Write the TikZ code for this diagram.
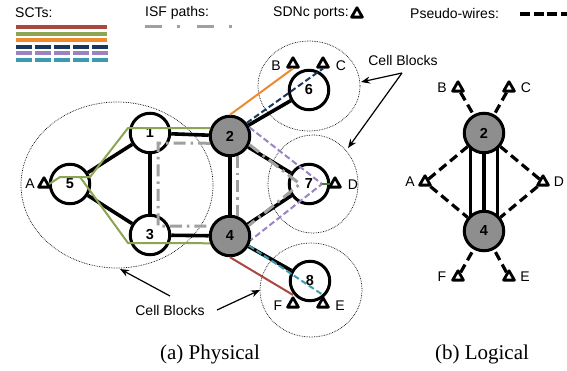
\documentclass[tikz,border=0pt]{standalone}
\usepackage{fontspec}
\setmainfont{Liberation Serif}
\setsansfont{Liberation Sans}
\usetikzlibrary{shapes.geometric,arrows.meta}
\definecolor{sctred}{HTML}{A9483F}
\definecolor{sctgreen}{HTML}{8BA552}
\definecolor{sctorange}{HTML}{EE8A2E}
\definecolor{sctnavy}{HTML}{17375E}
\definecolor{sctpurple}{HTML}{9A83C0}
\definecolor{sctteal}{HTML}{3B9BAE}
\definecolor{sctdkgreen}{HTML}{3C7A3C}
\definecolor{isfgray}{HTML}{A0A0A0}
\definecolor{nodegray}{HTML}{8E8E8E}
\pgfdeclarelayer{bg}
\pgfsetlayers{bg,main}
\begin{document}
\begin{tikzpicture}[x=1pt,y=-1pt,
  lbl/.style={font=\sffamily\fontsize{14}{16}\selectfont,inner sep=0pt},
  sw/.style={circle,draw=black,line width=3pt,fill=white,minimum size=39.5pt,inner sep=0pt,font=\sffamily\bfseries\fontsize{14.5}{16}\selectfont},
  swg/.style={sw,fill=nodegray},
  port/.style={regular polygon,regular polygon sides=3,draw=black,line width=2.8pt,line join=round,fill=white,minimum size=12.5pt,inner sep=0pt},
  link/.style={line width=3.6pt},
  cellblock/.style={draw=black,line width=0.7pt,densely dotted},
  sct/.style={line width=2pt},
  sctdash/.style={line width=2pt,dash pattern=on 6pt off 3pt},
  legsct/.style={line width=4pt},
  legdash/.style={line width=4pt,dash pattern=on 16pt off 3pt},
  isf/.style={isfgray,line width=3pt,dash pattern=on 12pt off 5pt on 2.5pt off 5pt},
  pw/.style={line width=3.2pt,dash pattern=on 9pt off 5pt},
  callout/.style={line width=1.2pt,-{Stealth[length=9pt,width=7pt]}},
  captxt/.style={font=\rmfamily\fontsize{21}{24}\selectfont,inner sep=0pt},
]
\useasboundingbox (0,0) rectangle (567,370);

% ---------- legend ----------
\node[lbl,anchor=west] (lsct) at (15,13) {SCTs:};
\draw[legsct,sctred] (16,27) -- (107,27);
\draw[legsct,sctgreen] (16,33.5) -- (107,33.5);
\draw[legsct,sctorange] (16,40) -- (107,40);
\draw[legdash,sctnavy] (16,46.5) -- (108,46.5);
\draw[legdash,sctpurple] (16,53) -- (108,53);
\draw[legdash,sctteal] (16,59.5) -- (108,59.5);
\node[lbl,anchor=west] (lisf) at (145,13) {ISF paths:};
\draw[isfgray,line width=3pt,dash pattern=on 17pt off 15pt on 3pt off 17pt] (145,26) -- (236,26);
\node[lbl,anchor=west] (lsdn) at (273,13) {SDNc ports:};
\node[port] (lport) at (357,14) {};
\node[lbl,anchor=west] (lpw) at (410,13) {Pseudo-wires:};
\draw[line width=3.5pt,dash pattern=on 10pt off 3.5pt] (520,14) -- (567,14);

% ---------- physical: cell blocks ----------
\draw[cellblock] (117,185) ellipse [x radius=96, y radius=83];
\draw[cellblock] (309,86) ellipse [x radius=51, y radius=45];
\draw[cellblock] (313,184) ellipse [x radius=45, y radius=49];
\draw[cellblock] (311,290) ellipse [x radius=51, y radius=47];

% ---------- physical: switches ----------
\node[sw] (n1) at (150,133) {1};
\node[swg] (n2) at (230,136) {2};
\node[sw] (n3) at (150,235) {3};
\node[swg] (n4) at (230,236) {4};
\node[sw] (n5) at (70,184) {5};
\node[sw] (n6) at (309,90) {6};
\node[sw] (n7) at (309,184) {7};
\node[sw] (n8) at (310,281) {8};

\begin{pgfonlayer}{bg}
\draw[link] (n5) -- (n1);
\draw[link] (n5) -- (n3);
\draw[link] (n1) -- (n3);
\draw[link] (n1) -- (n2);
\draw[link] (n3) -- (n4);
\draw[link] (n2) -- (n4);
\draw[link] (n2) -- (n6);
\draw[link] (n2) -- (n7);
\draw[link] (n4) -- (n7);
\draw[link] (n4) -- (n8);
\end{pgfonlayer}

% ports
\node[port] (pA) at (44,184) {};
\node[port] (pB) at (293,64) {};
\node[port] (pC) at (323,64) {};
\node[port] (pD) at (335,184) {};
\node[port] (pE) at (323,304) {};
\node[port] (pF) at (293,304) {};
\node[lbl] (tA) at (30,184) {A};
\node[lbl] (tB) at (276,66) {B};
\node[lbl] (tC) at (341,66) {C};
\node[lbl] (tD) at (353,185) {D};
\node[lbl] (tE) at (340,306) {E};
\node[lbl] (tF) at (278,306) {F};

% ---------- ISF paths ----------
\coordinate (i1) at (158,143);
\coordinate (i2) at (158,226);
\coordinate (i7) at (300,184);
\draw[isf] (n2.200) -- (i1) -- (i2) -- (n4.152);
\draw[isf] (n2.-70) -- (n4.70);
\draw[isf] (n2.-24) -- (i7) -- (n4.29);

% ---------- SCTs ----------
\coordinate (g1) at (60,177);
\coordinate (g2) at (90,177);
\coordinate (g3) at (128,128);
\coordinate (g4) at (80,177);
\coordinate (g5) at (128,243);
\draw[sct,sctgreen,line join=round] (pA.east) -- (g1) -- (g2) -- (g3) -- (n2.158);
\draw[sct,sctgreen,line join=round] (g4) -- (g5) -- (n4.200);
\draw[sct,sctorange] (n2.north) -- (pB.south);
\draw[sctdash,sctnavy] (n2.38) -- (pC.south);
\coordinate (p7) at (322,184);
\draw[sctdash,sctpurple] (n2.24) -- (p7) -- (n4.-11);
\draw[sct,sctdkgreen,line width=2.2pt] (p7) -- (pD.west);
\draw[sctdash,sctteal] (n4.-27) -- (pE.north);
\draw[sct,sctred] (n4.south) -- (pF.north);

% ---------- callouts ----------
\node[lbl] (cbt) at (403,60) {Cell Blocks};
\coordinate (cbt0) at (402,73);
\coordinate (cb6) at (361,82);
\coordinate (cb7) at (348,148);
\draw[callout] (cbt0) -- (cb6);
\draw[callout] (cbt0) -- (cb7);
\node[lbl] (cbb) at (170,310) {Cell Blocks};
\coordinate (cbb0) at (170,296);
\coordinate (cbb1) at (217,310);
\coordinate (cb1) at (120,269);
\coordinate (cb8) at (260,290);
\draw[callout] (cbb0) -- (cb1);
\draw[callout] (cbb1) -- (cb8);

% ---------- logical ----------
\node[swg] (L2) at (484,133) {2};
\node[swg] (L4) at (484,231) {4};
\begin{pgfonlayer}{bg}
\draw[link,line width=3.2pt] ([xshift=-13.5pt]L2.center) -- ([xshift=-13.5pt]L4.center);
\draw[link,line width=3.2pt] (L2.center) -- (L4.center);
\draw[link,line width=3.2pt] ([xshift=13.5pt]L2.center) -- ([xshift=13.5pt]L4.center);
\end{pgfonlayer}
\node[port] (qB) at (458,88) {};
\node[port] (qC) at (509,88) {};
\node[port] (qA) at (425,182) {};
\node[port] (qD) at (543,182) {};
\node[port] (qF) at (458,277) {};
\node[port] (qE) at (509,277) {};
\node[lbl] (uB) at (442,88) {B};
\node[lbl] (uC) at (526,88) {C};
\node[lbl] (uA) at (410,182) {A};
\node[lbl] (uD) at (559,182) {D};
\node[lbl] (uF) at (442,277) {F};
\node[lbl] (uE) at (525,277) {E};
\draw[pw] (qB) -- (L2);
\draw[pw] (qC) -- (L2);
\draw[pw] (qA) -- (L2);
\draw[pw] (qA) -- (L4);
\draw[pw] (qD) -- (L2);
\draw[pw] (qD) -- (L4);
\draw[pw] (qF) -- (L4);
\draw[pw] (qE) -- (L4);

% ---------- captions ----------
\node[captxt] (capa) at (210,354) {(a) Physical};
\node[captxt] (capb) at (482,354) {(b) Logical};
\end{tikzpicture}
\end{document}
